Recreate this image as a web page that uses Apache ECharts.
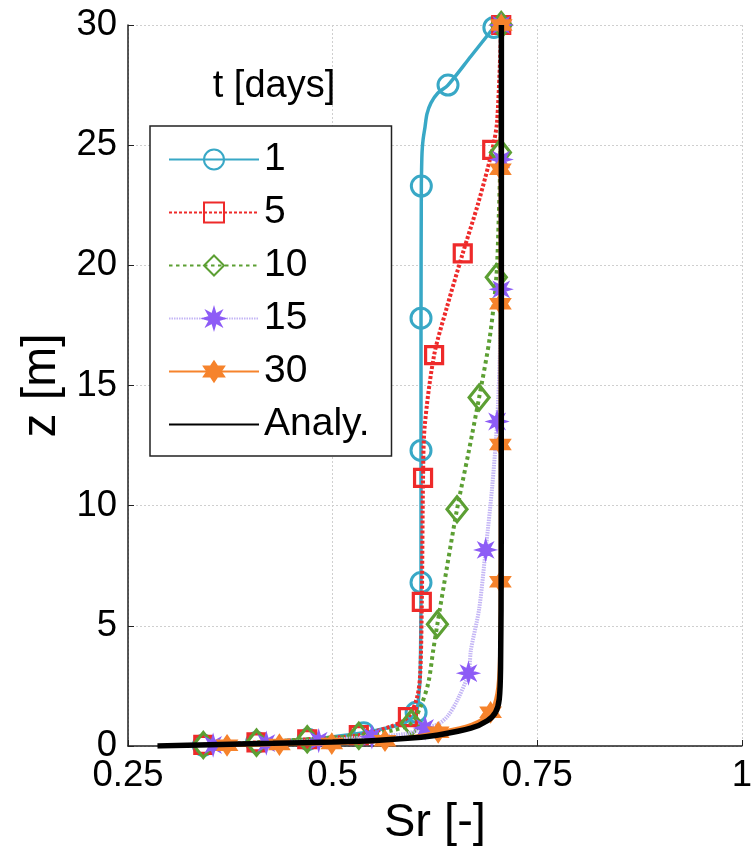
<!DOCTYPE html>
<html>
<head>
<meta charset="utf-8">
<script src="https://cdn.jsdelivr.net/npm/echarts@6/dist/echarts.min.js"></script>
<style>
  html, body { margin: 0; padding: 0; background: #fff; }
  #chart { width: 755px; height: 854px; }
</style>
</head>
<body>
<div id="chart"></div>
<script>
// Saturation profiles Sr(z) at several times, plus the analytical steady profile.
// Each profile: Sr values, z values [m], and a flag marking which nodes carry a marker.

const seriesNames = ['1', '5', '10', '15', '30', 'Analy.'];

const sr1 = [0.697, 0.669, 0.641, 0.6286, 0.6202, 0.6153, 0.6129, 0.6105, 0.6093, 0.6087, 0.6084, 0.608, 0.608, 0.608, 0.607, 0.605, 0.602, 0.590, 0.570, 0.538, 0.500, 0.470, 0.407, 0.342];
const z1  = [29.9, 28.7, 27.5, 27.17, 26.76, 26.30, 25.76, 25.22, 24.72, 23.97, 23.3, 17.8, 12.3, 6.8, 3.0, 2.0, 1.4, 1.0, 0.78, 0.55, 0.38, 0.28, 0.15, 0.03];
const mk1 = [1, 0, 1, 0, 0, 0, 0, 0, 0, 0, 1, 1, 1, 1, 0, 0, 1, 0, 0, 1, 0, 1, 1, 1];

const sr5 = [0.706, 0.701, 0.695, 0.678, 0.659, 0.640, 0.624, 0.6125, 0.6105, 0.609, 0.607, 0.603, 0.592, 0.570, 0.532, 0.469, 0.407, 0.342];
const z5  = [30.0, 26.0, 24.8, 22.6, 20.5, 18.3, 16.26, 13.3, 11.16, 6.0, 3.0, 2.0, 1.2, 0.8, 0.45, 0.28, 0.15, 0.05];
const mk5 = [1, 0, 1, 0, 1, 0, 1, 0, 1, 1, 0, 0, 1, 0, 1, 1, 1, 1];

const sr10 = [0.706, 0.705, 0.703, 0.700, 0.692, 0.679, 0.666, 0.652, 0.640, 0.628, 0.623, 0.617, 0.608, 0.596, 0.572, 0.532, 0.469, 0.407, 0.342];
const z10  = [30.0, 24.7, 22.0, 19.5, 17.0, 14.5, 12.2, 9.85, 7.5, 5.07, 4.0, 2.64, 1.68, 0.95, 0.64, 0.43, 0.28, 0.14, 0.04];
const mk10 = [1, 1, 0, 1, 0, 1, 0, 1, 0, 1, 0, 0, 0, 1, 0, 1, 1, 1, 1];

const sr15 = [0.706, 0.706, 0.706, 0.704, 0.701, 0.695, 0.687, 0.679, 0.669, 0.666, 0.653, 0.641, 0.629, 0.613, 0.588, 0.548, 0.483, 0.419, 0.354];
const z15  = [30.0, 24.4, 19.0, 16.0, 13.5, 10.8, 8.16, 5.7, 4.0, 3.03, 1.95, 1.26, 0.91, 0.75, 0.5, 0.38, 0.22, 0.12, 0.04];
const mk15 = [1, 1, 1, 0, 1, 0, 1, 0, 0, 1, 0, 0, 0, 1, 0, 1, 1, 1, 1];

const sr30 = [0.706, 0.705, 0.705, 0.705, 0.705, 0.704, 0.701, 0.693, 0.670, 0.629, 0.564, 0.499, 0.435, 0.371];
const z30  = [30.0, 24.0, 18.4, 12.55, 6.83, 3.5, 2.2, 1.4, 0.9, 0.57, 0.22, 0.10, 0.06, 0.03];
const mk30 = [1, 1, 1, 1, 1, 0, 0, 1, 0, 1, 1, 1, 1, 1];

const srAn = [0.286, 0.350, 0.427, 0.500, 0.548, 0.600, 0.629, 0.669, 0.689, 0.699, 0.7036, 0.7052, 0.7060, 0.7062];
const zAn  = [0.0, 0.05, 0.11, 0.17, 0.22, 0.34, 0.46, 0.74, 1.05, 1.4, 1.95, 3.3, 8.0, 30.0];

const xTicks = [0.25, 0.5, 0.75, 1];
const yTicks = [0, 5, 10, 15, 20, 25, 30];

const FONT = '"Liberation Sans", Arial, sans-serif';

// Marker outlines used by the 15- and 30-day profiles
const asteriskPath = 'path://M20 10 L14.16 11.72 L17.07 17.07 L11.72 14.16 L10 20 L8.28 14.16 L2.93 17.07 L5.84 11.72 L0 10 L5.84 8.28 L2.93 2.93 L8.28 5.84 L10 0 L11.72 5.84 L17.07 2.93 L14.16 8.28 Z';
const hexagramPath = 'path://M10 0 L12.89 5 L18.66 5 L15.77 10 L18.66 15 L12.89 15 L10 20 L7.11 15 L1.34 15 L4.23 10 L1.34 5 L7.11 5 Z';

function buildData(sr, z, mk) {
  return sr.map((v, i) => (mk && mk[i]) ? [v, z[i]] : { value: [v, z[i]], symbol: 'none' });
}

function profile(name, sr, z, mk, opts) {
  return {
    name: name,
    type: 'line',
    data: buildData(sr, z, mk),
    smooth: 0.3,
    showAllSymbol: true,
    symbol: opts.symbol,
    symbolSize: opts.symbolSize,
    lineStyle: { color: opts.lineColor, width: opts.lineWidth, type: opts.lineType },
    itemStyle: {
      color: opts.fill,
      borderColor: opts.markColor,
      borderWidth: opts.borderWidth
    },
    emphasis: { disabled: true },
    z: opts.z
  };
}

const chart = echarts.init(document.getElementById('chart'), null, { renderer: 'canvas' });

chart.setOption({
  animation: false,
  backgroundColor: '#ffffff',
  title: {
    text: 't [days]',
    left: 269,
    top: 63,
    textAlign: 'center',
    textStyle: { fontFamily: FONT, fontSize: 38, fontWeight: 'normal', color: '#000' }
  },
  grid: { left: 128, right: 9, top: 25, bottom: 108, containLabel: false },
  legend: {
    orient: 'vertical',
    left: 150,
    top: 126,
    padding: [14, 22, 12, 18],
    itemWidth: 90,
    itemHeight: 25,
    itemGap: 14,
    borderColor: '#222',
    borderWidth: 1.5,
    backgroundColor: '#ffffff',
    data: seriesNames,
    textStyle: { fontFamily: FONT, fontSize: 39, lineHeight: 39, color: '#000' }
  },
  xAxis: {
    type: 'value',
    min: xTicks[0],
    max: xTicks[xTicks.length - 1],
    interval: 0.25,
    name: 'Sr [-]',
    nameLocation: 'middle',
    nameGap: 54,
    nameTextStyle: { fontFamily: FONT, fontSize: 47, color: '#000' },
    axisLine: { onZero: false, lineStyle: { color: '#222', width: 1.5 } },
    axisTick: { inside: true, length: 6, lineStyle: { color: '#222' } },
    axisLabel: {
      fontFamily: FONT, fontSize: 36.5, color: '#000', margin: 11,
      formatter: v => String(v)
    },
    splitLine: { show: true, lineStyle: { color: '#cfcfcf', width: 1, type: [2, 2] } }
  },
  yAxis: {
    type: 'value',
    min: yTicks[0],
    max: yTicks[yTicks.length - 1],
    interval: 5,
    name: 'z [m]',
    nameLocation: 'middle',
    nameGap: 58,
    nameTextStyle: { fontFamily: FONT, fontSize: 48, color: '#000' },
    axisLine: { onZero: false, lineStyle: { color: '#222', width: 1.5 } },
    axisTick: { inside: true, length: 6, lineStyle: { color: '#222' } },
    axisLabel: { fontFamily: FONT, fontSize: 36.5, color: '#000', margin: 11 },
    splitLine: { show: true, lineStyle: { color: '#cfcfcf', width: 1, type: [2, 2] } }
  },
  series: [
    profile('1', sr1, z1, mk1, {
      symbol: 'circle', symbolSize: 20, lineColor: '#38a8c6', markColor: '#38a8c6',
      fill: 'rgba(255,255,255,0)', borderWidth: 3, lineWidth: 3.5, lineType: 'solid', z: 2
    }),
    profile('5', sr5, z5, mk5, {
      symbol: 'rect', symbolSize: 17, lineColor: '#ee2a2a', markColor: '#ee2a2a',
      fill: 'rgba(255,255,255,0)', borderWidth: 3.2, lineWidth: 4, lineType: [3, 2], z: 3
    }),
    profile('10', sr10, z10, mk10, {
      symbol: 'diamond', symbolSize: [20, 25], lineColor: '#5c9f33', markColor: '#5c9f33',
      fill: 'rgba(255,255,255,0)', borderWidth: 3.2, lineWidth: 4, lineType: [3.5, 3.5], z: 4
    }),
    profile('15', sr15, z15, mk15, {
      symbol: asteriskPath, symbolSize: 20, lineColor: '#c4b6f5', markColor: '#8d5cf6',
      fill: '#8d5cf6', borderWidth: 1.5, lineWidth: 4, lineType: [1.5, 1], z: 5
    }),
    profile('30', sr30, z30, mk30, {
      symbol: hexagramPath, symbolSize: 20, lineColor: '#f6832c', markColor: '#f6832c',
      fill: '#f6832c', borderWidth: 1.5, lineWidth: 3.5, lineType: 'solid', z: 6
    }),
    {
      name: 'Analy.',
      type: 'line',
      data: srAn.map((v, i) => [v, zAn[i]]),
      smooth: 0.3,
      symbol: 'circle',
      showSymbol: false,
      lineStyle: { color: '#000', width: 5.5, type: 'solid' },
      itemStyle: { color: 'rgba(0,0,0,0)', borderWidth: 0 },
      emphasis: { disabled: true },
      z: 7
    }
  ]
});
</script>
</body>
</html>
